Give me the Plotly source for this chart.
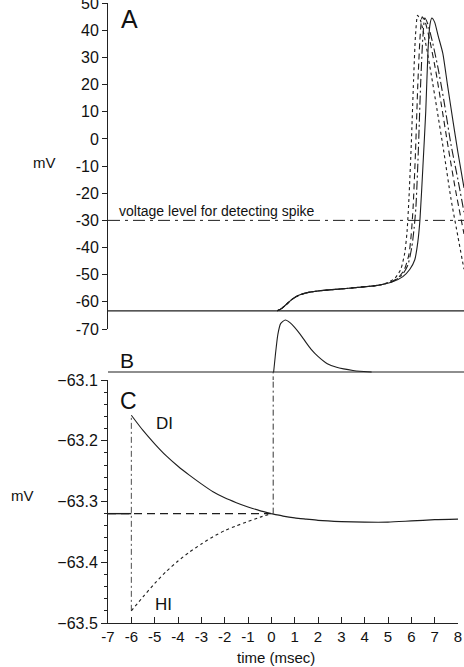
import plotly.graph_objects as go

W, H = 464, 667
MT, MB = 3, 44
PH = H - MT - MB

def pxx(x):
    return x / W

def pyy(y):
    return (H - MB - y) / PH

FONT = "Liberation Sans, Arial, sans-serif"
INK = "#1e1e1e"

# ---------------- Panel A data (mV vs msec) ----------------
a_base_t = [-7, 8.26]
a_base_v = [-63.3, -63.3]
threshold_v = -30

epsp_t = [0.25, 0.45, 0.65, 0.9, 1.2, 1.6, 2.0, 2.6, 3.2, 3.8, 4.3]
epsp_v = [-63.3, -62.4, -60.9, -59.0, -57.5, -56.5, -56.0, -55.5, -55.1, -54.6, -54.2]

spk_solid_t = [4.7, 5.2, 5.64, 5.94, 6.15, 6.28, 6.37, 6.5, 6.62, 6.72, 6.8, 6.88, 7.0, 7.15, 7.35, 7.55, 7.78, 8.0, 8.26]
spk_solid_v = [-53.7, -52.6, -50.7, -48.0, -44.5, -38, -30, -10, 10, 33, 42, 44.5, 43, 38, 31.6, 20, 7, -5, -18]

spk_dot_t = [4.7, 5.0, 5.3, 5.55, 5.72, 5.82, 5.9, 6.0, 6.1, 6.18, 6.27, 6.4, 6.6, 6.85, 7.1, 7.4, 7.7, 8.0, 8.26]
spk_dot_v = [-53.7, -52.9, -51.3, -48.0, -42, -34, -22, -2, 22, 38, 45.5, 43.5, 36, 24, 11, -5, -22, -36, -48]

spk_dash_t = [4.7, 5.1, 5.45, 5.7, 5.9, 6.0, 6.08, 6.18, 6.28, 6.38, 6.47, 6.6, 6.8, 7.05, 7.3, 7.6, 7.9, 8.26]
spk_dash_v = [-53.7, -52.8, -51.0, -48.2, -42.5, -35, -25, -5, 20, 38, 45, 43, 36, 25, 12, -4, -19, -35]

spk_ldash_t = [4.7, 5.2, 5.6, 5.85, 6.02, 6.12, 6.2, 6.3, 6.4, 6.5, 6.58, 6.7, 6.9, 7.15, 7.4, 7.7, 8.0, 8.26]
spk_ldash_v = [-53.7, -52.5, -50.2, -46.5, -40, -33, -25, -5, 20, 38, 44.5, 42.5, 36, 26, 14, -2, -15, -27]

# ---------------- Panel B data (normalised) ----------------
b_base_t = [-7, 8.26]
b_base_v = [0, 0]
b_t = [0.1, 0.18, 0.28, 0.4, 0.6, 0.8, 1.0, 1.25, 1.5, 1.7, 2.0, 2.4, 2.8, 3.1, 3.5, 3.8, 4.3]
b_v = [0, 0.35, 0.72, 0.93, 1.0, 0.95, 0.86, 0.72, 0.56, 0.44, 0.3, 0.16, 0.09, 0.06, 0.03, 0.015, 0]

# ---------------- Panel C data (mV vs msec) ----------------
pre_t = [-7, -6]
pre_v = [-63.32, -63.32]
di_t = [-6, -5.5, -5, -4.5, -4, -3.5, -3, -2.5, -2, -1.5, -1, -0.5, 0]
di_v = [-63.158, -63.183, -63.205, -63.225, -63.242, -63.257, -63.271, -63.284, -63.294, -63.302, -63.309, -63.315, -63.32]
hi_t = [-6, -5.5, -5, -4.5, -4, -3.5, -3, -2.5, -2, -1.5, -1, -0.5, 0]
hi_v = [-63.48, -63.457, -63.435, -63.415, -63.398, -63.383, -63.37, -63.358, -63.348, -63.34, -63.333, -63.326, -63.32]
ctrl_t = [-7, 0]
ctrl_v = [-63.32, -63.32]
post_t = [0, 0.5, 1, 1.5, 2, 3, 4, 5, 6, 7, 8]
post_v = [-63.32, -63.324, -63.327, -63.329, -63.331, -63.333, -63.334, -63.334, -63.332, -63.330, -63.329]
step_t = [-6, -6]
step_v = [-63.48, -63.158]
stim_t = [0.08, 0.08]
stim_c_v = [-63.32, -63.09]
stim_b_v = [-0.2, 0]

x_ticks = list(range(-7, 9))
a_ticks = list(range(-70, 51, 10))

fig = go.Figure()

def add(t, v, xa, ya, dash="solid", width=1.2, shape="spline"):
    fig.add_trace(go.Scatter(
        x=t, y=v, xaxis=xa, yaxis=ya, mode="lines",
        line=dict(color=INK, width=width, dash=dash, shape=shape, smoothing=0.6),
        hoverinfo="skip", showlegend=False))

# Panel A
add(a_base_t, a_base_v, "x2", "y2", shape="linear")
add(a_base_t, [threshold_v, threshold_v], "x2", "y2", dash="12px,5px,3px,5px", width=1.0, shape="linear")
for st, sv, d in [(spk_dot_t, spk_dot_v, "dot"),
                  (spk_dash_t, spk_dash_v, "6px,4px"),
                  (spk_ldash_t, spk_ldash_v, "9px,3px,2px,3px"),
                  (spk_solid_t, spk_solid_v, "solid")]:
    add(epsp_t + st, epsp_v + sv, "x2", "y2", dash=d, width=1.1)

# Panel B
add(b_base_t, b_base_v, "x2", "y3", shape="linear")
add(b_t, b_v, "x2", "y3", width=1.1)
add(stim_t, stim_b_v, "x2", "y3", dash="6px,3px,2px,3px", width=0.9, shape="linear")

# Panel C
add(pre_t, pre_v, "x", "y", shape="linear", width=1.4)
add(ctrl_t, ctrl_v, "x", "y", dash="8px,5px", shape="linear", width=1.2)
add(step_t, step_v, "x", "y", dash="6px,3px,2px,3px", width=0.8, shape="linear")
add(di_t, di_v, "x", "y", width=1.1)
add(hi_t, hi_v, "x", "y", dash="dot", width=1.1)
add(post_t, post_v, "x", "y", width=1.2)
add(stim_t, stim_c_v, "x", "y", dash="6px,3px,2px,3px", width=0.9, shape="linear")

x0 = pxx(108)
x1 = pxx(458)
a_bottom = pyy(329)
c_top = pyy(380)
b_lo, b_hi = pyy(380), pyy(313)

fig.update_layout(
    width=W, height=H,
    margin=dict(l=0, r=0, t=MT, b=MB, autoexpand=False),
    paper_bgcolor="white", plot_bgcolor="rgba(0,0,0,0)",
    font=dict(family=FONT, color="#111", size=15),
    showlegend=False,
    xaxis=dict(domain=[x0, x1], range=[-7, 8], anchor="y",
               tickmode="array", tickvals=x_ticks, ticktext=[str(v) for v in x_ticks],
               ticks="inside", ticklen=6, tickwidth=1, tickcolor="#222",
               showline=True, linecolor="#222", linewidth=1,
               showgrid=False, zeroline=False, automargin=False,
               tickfont=dict(size=15, family=FONT)),
    yaxis=dict(domain=[0, c_top], range=[-63.5, -63.1], anchor="x",
               tickmode="linear", tick0=-63.5, dtick=0.1, tickformat=".1f",
               ticks="outside", ticklen=6, tickwidth=1, tickcolor="#222",
               minor=dict(tickmode="linear", tick0=-63.5, dtick=0.02, ticks="outside",
                          ticklen=3, tickcolor="#222", showgrid=False),
               showline=True, linecolor="#222", linewidth=1,
               showgrid=False, zeroline=False, automargin=False,
               tickfont=dict(size=16, family=FONT)),
    xaxis2=dict(domain=[x0, 1.0], range=[-7, 8.26], anchor="y2", visible=False),
    yaxis2=dict(domain=[a_bottom, 1.0], range=[-70, 50.05], anchor="x2",
                tickmode="array", tickvals=a_ticks, ticktext=[str(v) for v in a_ticks],
                ticks="outside", ticklen=5, tickwidth=1, tickcolor="#222",
                ticklabeloverflow="allow",
                showline=True, linecolor="#222", linewidth=1,
                showgrid=False, zeroline=False, automargin=False,
                tickfont=dict(size=16, family=FONT)),
    yaxis3=dict(domain=[b_lo, b_hi], range=[-8 / 52, 59 / 52], anchor="x2", visible=False),
)

def note(text, xp, yp, size, xanchor="center"):
    fig.add_annotation(text=text, x=pxx(xp), y=pyy(yp), xref="paper", yref="paper",
                       showarrow=False, xanchor=xanchor, yanchor="middle",
                       font=dict(size=size, family=FONT, color="#111"))

note("A", 129, 19, 25)
note("B", 127, 360, 21)
note("C", 128, 401, 23)
note("DI", 164, 423, 17)
note("HI", 163, 604, 17)
note("mV", 44, 162, 15)
note("mV", 22, 495, 15)
note("voltage level for detecting spike", 117, 211, 14, xanchor="left")
note("time (msec)", 276, 657, 15)

fig.write_html(
    "out.html",
    config={"displayModeBar": False, "staticPlot": True},
    post_script="document.body.style.margin='0';document.body.style.overflow='hidden';",
)
